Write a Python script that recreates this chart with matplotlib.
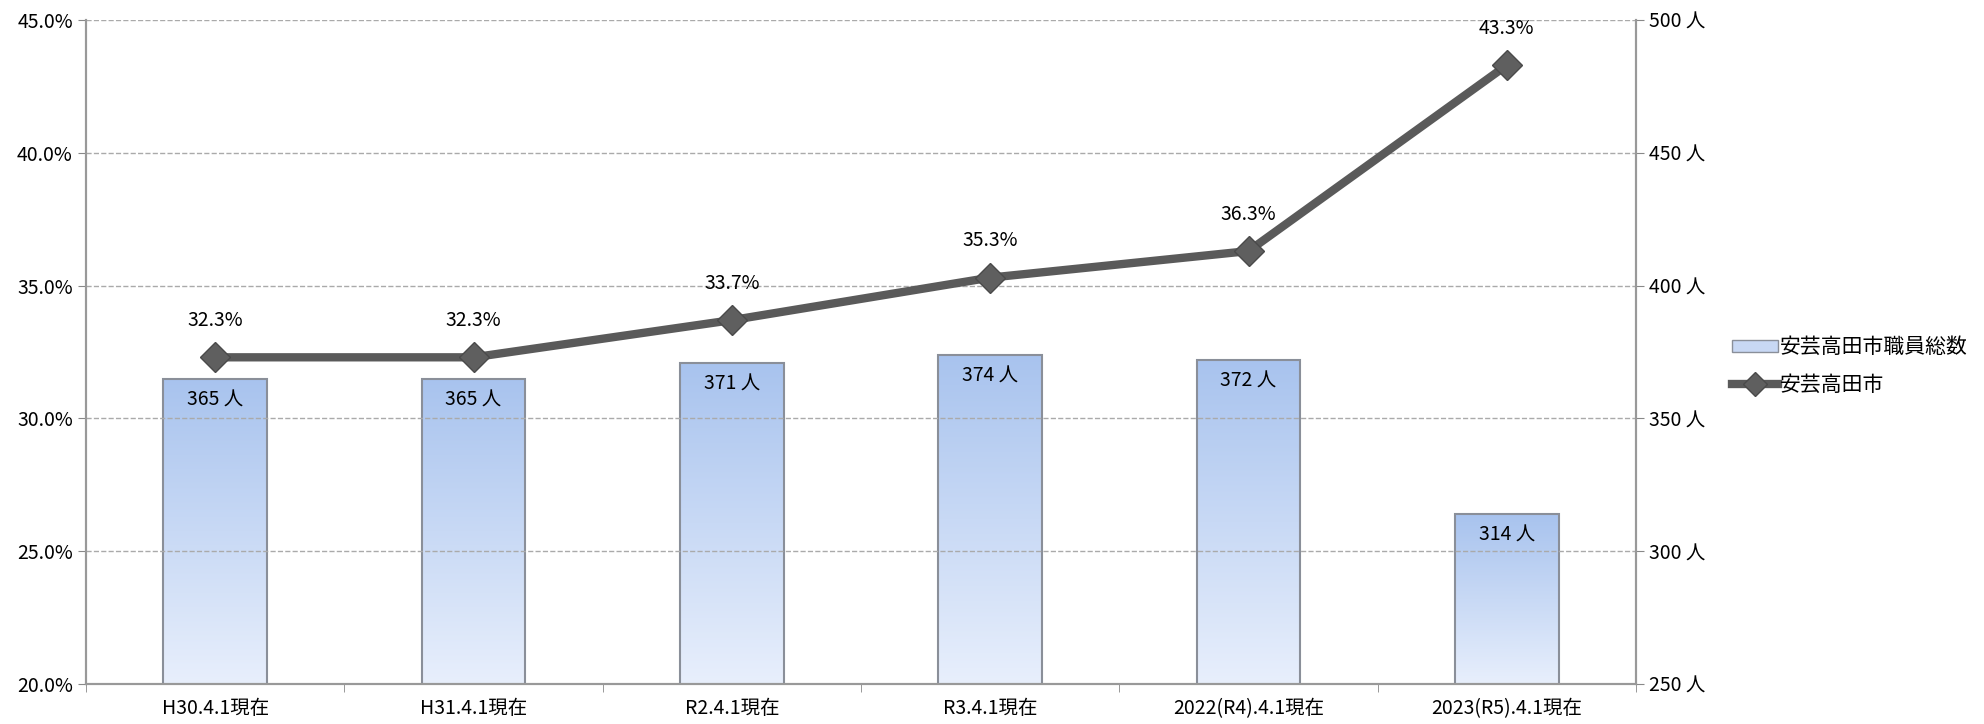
import matplotlib.pyplot as plt
import numpy as np
from matplotlib.colors import LinearSegmentedColormap
from matplotlib.lines import Line2D
from matplotlib.patches import Patch

plt.rcParams['font.family'] = ['Noto Sans CJK JP', 'DejaVu Sans']

categories = ['H30.4.1現在', 'H31.4.1現在', 'R2.4.1現在', 'R3.4.1現在',
              '2022(R4).4.1現在', '2023(R5).4.1現在']
staff = [365, 365, 371, 374, 372, 314]
ratio = [32.3, 32.3, 33.7, 35.3, 36.3, 43.3]

fig = plt.figure(figsize=(19.84, 7.24), dpi=100)
ax = fig.add_axes([86 / 1984, 1 - 684 / 724, 1550 / 1984, 664 / 724])
ax2 = ax.twinx()

x = np.arange(len(categories))
grad = LinearSegmentedColormap.from_list('g', ['#e8effc', '#a8c3ee'])

# bars on right axis (people), line on left axis (%)
ax2.set_ylim(250, 500)
bars = ax2.bar(x, staff, width=0.4, color='none', edgecolor='#8a8f99', linewidth=1.5, zorder=2)
for b in bars:
    x0, w, h = b.get_x(), b.get_width(), b.get_height()
    img = ax2.imshow(np.linspace(0, 1, 256).reshape(-1, 1), cmap=grad, aspect='auto',
                     origin='lower', extent=[x0, x0 + w, 250, h], zorder=1.5)
    img.set_clip_path(b)
    ax2.text(x0 + w / 2, h - 4, f'{h} 人', ha='center', va='top', fontsize=14, zorder=5)

ax.set_zorder(ax2.get_zorder() + 1)
ax.patch.set_visible(False)
ax.plot(x, ratio, color='#5a5a5a', linewidth=6, marker='D', markersize=15,
        markerfacecolor='#5f5f5f', markeredgecolor='#4a4a4a', zorder=4)
for xi, r in zip(x, ratio):
    ax.text(xi, r + 1.0, f'{r:.1f}%', ha='center', va='bottom', fontsize=14)

ax.set_ylim(20, 45)
ax.set_yticks(np.arange(20, 46, 5))
ax.set_yticklabels([f'{v:.1f}%' for v in np.arange(20, 46, 5)])
ax2.set_yticks(np.arange(250, 501, 50))
ax2.set_yticklabels([f'{v} 人' for v in range(250, 501, 50)])
ax.set_xlim(-0.5, len(categories) - 0.5)
ax.set_xticks(x)
ax.set_xticklabels(categories)
ax.set_xticks(np.arange(-0.5, len(categories)), minor=True)
ax.tick_params(axis='x', which='major', length=0, labelsize=14, pad=10)
ax.tick_params(axis='x', which='minor', length=6, color='#888888')
ax.tick_params(axis='y', labelsize=14, length=6, color='#888888')
ax2.tick_params(axis='y', labelsize=14, length=6, color='#888888')
ax.grid(axis='y', linestyle='--', color='#aaaaaa', linewidth=1)

for a in (ax, ax2):
    a.spines['top'].set_visible(False)
    for s in ('left', 'right', 'bottom'):
        a.spines[s].set_color('#999999')
        a.spines[s].set_linewidth(1.5)

handles = [Patch(facecolor='#c8d8f4', edgecolor='#8a8f99'),
           Line2D([0], [0], color='#5a5a5a', linewidth=6, marker='D', markersize=12,
                  markerfacecolor='#5f5f5f', markeredgecolor='#4a4a4a')]
fig.legend(handles, ['安芸高田市職員総数', '安芸高田市'], loc='center left',
           bbox_to_anchor=(1726 / 1984, 1 - 366 / 724), frameon=False, fontsize=15,
           handlelength=2.2, handleheight=0.5, handletextpad=0.1, labelspacing=0.75,
           borderaxespad=0, borderpad=0.3)

fig.savefig('out.png', dpi=100)
